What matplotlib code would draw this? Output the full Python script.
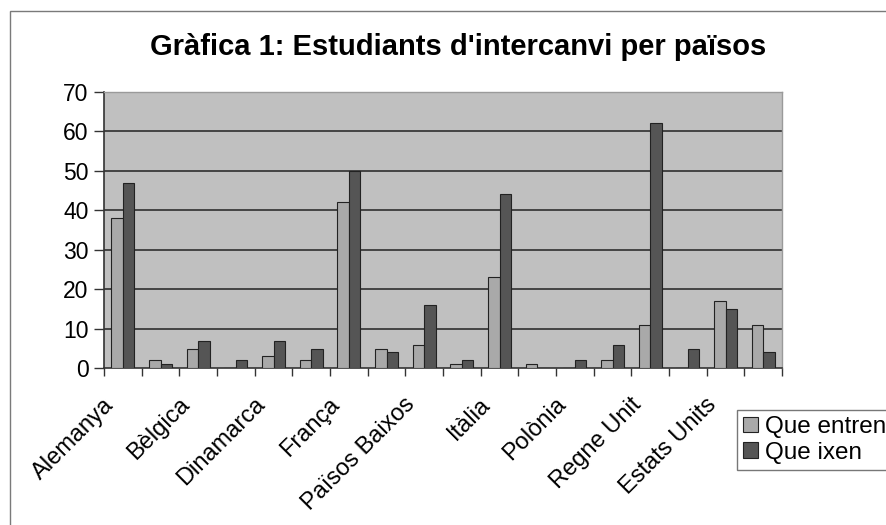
import matplotlib
matplotlib.use("Agg")
import matplotlib.pyplot as plt
import matplotlib.patches as mpatches
import matplotlib.transforms as mtransforms
import numpy as np

plt.rcParams['font.family'] = ['Liberation Sans', 'DejaVu Sans']

title = "Gràfica 1: Estudiants d'intercanvi per països"
# 18 categories; only every other label is shown in the original chart
labels_shown = ["Alemanya", "Bèlgica", "Dinamarca", "França", "Països Baixos",
                "Itàlia", "Polònia", "Regne Unit", "Estats Units"]
n_categories = 18
entren = [38, 2, 5, 0, 3, 2, 42, 5, 6, 1, 23, 1, 0, 2, 11, 0, 17, 11]
ixen = [47, 1, 7, 2, 7, 5, 50, 4, 16, 2, 44, 0, 2, 6, 62, 5, 15, 4]
series_names = ["Que entren", "Que ixen"]
yticks = [0, 10, 20, 30, 40, 50, 60, 70]

W, H = 886, 525
fig = plt.figure(figsize=(W / 100, H / 100), dpi=100)
fig.patch.set_facecolor("white")

# chart area border (extends past right/bottom edges)
fig.add_artist(mpatches.Rectangle((10 / W, -0.1), 2, 1 - 11 / H + 0.1,
                                  transform=fig.transFigure, fill=False,
                                  edgecolor="#7a7a7a", lw=1.0))

left, right, top, bottom = 104, 782, 91.7, 368.3
ax = fig.add_axes([left / W, 1 - bottom / H, (right - left) / W, (bottom - top) / H])
ax.set_facecolor("#c0c0c0")

x = np.arange(n_categories)
w = 0.305
ax.bar(x - w / 2, entren, width=w, color="#a9a9a9", edgecolor="#222222", lw=0.8, zorder=3)
ax.bar(x + w / 2, ixen, width=w, color="#555555", edgecolor="#222222", lw=0.8, zorder=3)

ax.set_xlim(-0.5, n_categories - 0.5)
ax.set_ylim(0, 70)
ax.set_yticks(yticks)
ax.set_yticklabels([str(v) for v in yticks], fontsize=16.5)
for v in yticks[1:-1]:
    ax.axhline(v, color="#3a3a3a", lw=1.3, zorder=1)

# x ticks at category boundaries, labels at every other category
ax.set_xticks(np.arange(-0.5, n_categories, 1.0))
ax.set_xticklabels([])
ax.set_xticks(np.arange(0, n_categories, 2), minor=True)
ax.set_xticklabels(labels_shown, minor=True, rotation=45, ha="right",
                   rotation_mode="anchor", fontsize=17)
ax.tick_params(axis="x", which="minor", length=0, pad=6)
ax.tick_params(axis="x", which="major", length=6, width=1, color="#333333", direction="out")
ax.tick_params(axis="y", length=7, width=1, color="#333333", pad=4)

offset = mtransforms.ScaledTranslation(-20 / 100, -17 / 100, fig.dpi_scale_trans)
for lbl in ax.get_xticklabels(minor=True):
    lbl.set_transform(lbl.get_transform() + offset)

for s in ["top", "right"]:
    ax.spines[s].set_color("#9a9a9a")
    ax.spines[s].set_linewidth(1.0)
for s in ["left", "bottom"]:
    ax.spines[s].set_color("#333333")
    ax.spines[s].set_linewidth(1.2)

fig.text(458 / W, 1 - 47 / H, title, ha="center", va="center",
         fontsize=21, fontweight="bold")

handles = [mpatches.Patch(facecolor="#a9a9a9", edgecolor="#222222", lw=0.8),
           mpatches.Patch(facecolor="#555555", edgecolor="#222222", lw=0.8)]
leg = fig.legend(handles, series_names, loc="upper left",
                 bbox_to_anchor=(737 / W, 1 - 410 / H), fontsize=17.5,
                 frameon=True, fancybox=False, edgecolor="#555555",
                 handlelength=0.6, handleheight=0.6, handletextpad=0.3,
                 borderpad=0.25, labelspacing=0.15, borderaxespad=0)
leg.get_frame().set_linewidth(1.0)

fig.savefig("out.png", dpi=100)
